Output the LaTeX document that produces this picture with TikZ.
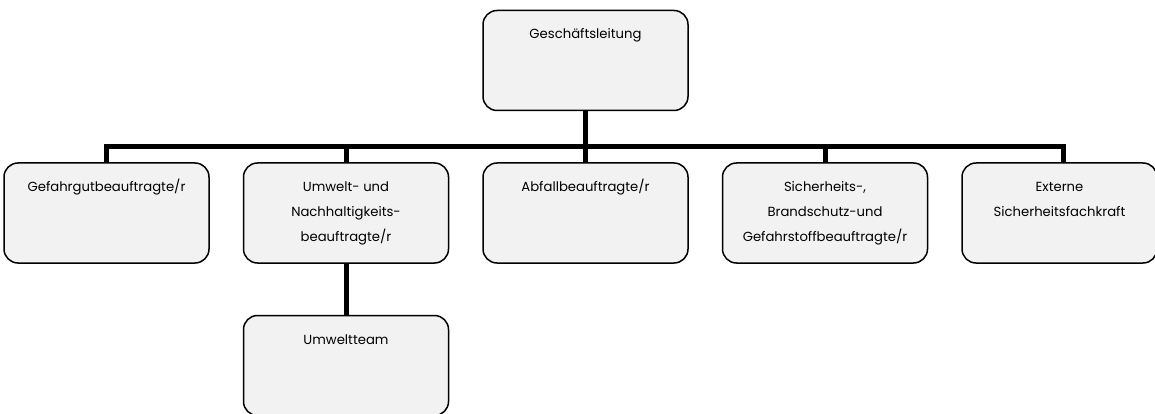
\documentclass[tikz,border=0pt]{standalone}
\usepackage{fontspec}
\setmainfont{Poppins}
\usepackage{xcolor}
\usepackage{tikz}
\usetikzlibrary{positioning}

\definecolor{boxfill}{HTML}{F2F2F2}
\newcommand{\boxtext}[2][185pt]{\parbox[c][84pt][t]{#1}{\vspace*{3pt}\centering\fontsize{13.2pt}{25pt}\selectfont\strut #2}}

\begin{document}
\begin{tikzpicture}[
    node distance=51pt and 33pt,
    orgbox/.style={rectangle, draw, rounded corners=14pt, line width=1.5pt, fill=boxfill, minimum width=205pt, minimum height=100pt, inner sep=8pt},
    conn/.style={line width=5pt}
]
\useasboundingbox (0pt,0pt) rectangle (1155pt,-414pt);

\node[orgbox] (gl) at (585.5pt,-60.5pt) {\boxtext{Geschäftsleitung}};
\node[orgbox, below=51pt of gl] (abfall) {\boxtext{Abfallbeauftragte/r}};
\node[orgbox, left=33pt of abfall] (umwelt) {\boxtext{Umwelt- und\\Nachhaltigkeits-\\beauftragte/r}};
\node[orgbox, left=33pt of umwelt] (gefahr) {\boxtext{Gefahrgutbeauftragte/r}};
\node[orgbox, right=33pt of abfall] (sicher) {\boxtext{Sicherheits-,\\Brandschutz-und\\Gefahrstoffbeauftragte/r}};
\node[orgbox, right=33pt of sicher, minimum width=195pt] (extern) {\boxtext[175pt]{Externe\\Sicherheitsfachkraft}};
\node[orgbox, below=51pt of umwelt] (team) {\boxtext{Umweltteam}};

% bus line
\coordinate (bus) at ([yshift=-35pt]gl.south);
\draw[conn] (gefahr.north) |- (bus) -| ([xshift=4pt]extern.north);
\draw[conn] (gl) -- (abfall);
\draw[conn] (umwelt.north) -- (umwelt.north |- bus);
\draw[conn] (sicher.north) -- (sicher.north |- bus);
\draw[conn] (umwelt) -- (team);
\end{tikzpicture}
\end{document}
